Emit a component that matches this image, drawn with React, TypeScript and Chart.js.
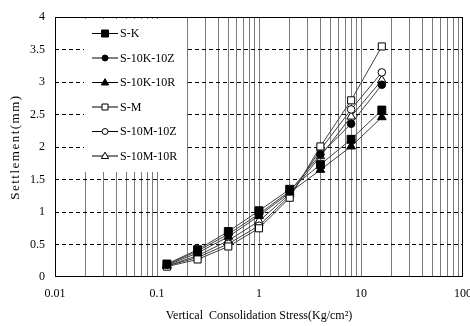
import React, { useEffect, useRef } from "react";
import { Chart, registerables } from "chart.js";

Chart.register(...registerables);

// ---- data ----
const stress = [0.125, 0.25, 0.5, 1, 2, 4, 8, 16];
const seriesNames = ["S-K", "S-10K-10Z", "S-10K-10R", "S-M", "S-10M-10Z", "S-10M-10R"];
const sK = [0.2, 0.42, 0.7, 1.02, 1.35, 1.73, 2.12, 2.57];
const s10K10Z = [0.19, 0.4, 0.66, 0.97, 1.32, 1.89, 2.36, 2.96];
const s10K10R = [0.18, 0.37, 0.62, 0.94, 1.3, 1.65, 2.01, 2.46];
const sM = [0.16, 0.27, 0.47, 0.75, 1.22, 2.01, 2.72, 3.55];
const s10M10Z = [0.17, 0.3, 0.51, 0.79, 1.25, 1.96, 2.58, 3.15];
const s10M10R = [0.17, 0.33, 0.56, 0.86, 1.28, 1.86, 2.47, 3.03];
const seriesValues = [sK, s10K10Z, s10K10R, sM, s10M10Z, s10M10R];
const markerShapes = ["rect", "circle", "triangle", "rect", "circle", "triangle"];
const markerFilled = [true, true, true, false, false, false];

const decades = [0.01, 0.1, 1, 10, 100];
const minorMultipliers = [1, 2, 3, 4, 5, 6, 7, 8, 9];
const yLabels = ["0", "0.5", "1", "1.5", "2", "2.5", "3", "3.5", "4"];
const xTitle = "Vertical  Consolidation Stress(Kg/cm\u00B2)";
const yTitle = "Settlement(mm)";

const FONT = '"Liberation Serif", "Times New Roman", serif';

function xTicks(): number[] {
  const out: number[] = [];
  for (let i = 0; i < decades.length - 1; i++) {
    for (const m of minorMultipliers) out.push(parseFloat((decades[i] * m).toPrecision(6)));
  }
  out.push(decades[decades.length - 1]);
  return out;
}

function drawMarker(ctx: CanvasRenderingContext2D, shape: string, filled: boolean, x: number, y: number, s: number) {
  ctx.save();
  ctx.beginPath();
  if (shape === "rect") {
    ctx.rect(x - s, y - s, 2 * s, 2 * s);
  } else if (shape === "circle") {
    ctx.arc(x, y, s, 0, Math.PI * 2);
  } else {
    ctx.moveTo(x, y - s * 1.15);
    ctx.lineTo(x + s * 1.1, y + s * 0.75);
    ctx.lineTo(x - s * 1.1, y + s * 0.75);
    ctx.closePath();
  }
  ctx.fillStyle = filled ? "#000" : "#fff";
  ctx.fill();
  ctx.lineWidth = 1;
  ctx.strokeStyle = "#000";
  ctx.stroke();
  ctx.restore();
}

const framePlugin = {
  id: "frameAndText",
  beforeDatasetsDraw(chart: any) {
    const { ctx, chartArea } = chart;
    const l = Math.round(chartArea.left) + 0.5;
    const r = Math.round(chartArea.right) - 0.5;
    const t = Math.round(chartArea.top) + 0.5;
    const b = Math.round(chartArea.bottom) - 0.5;
    ctx.save();
    ctx.strokeStyle = "#000";
    ctx.lineWidth = 1;
    ctx.strokeRect(l, t, r - l, b - t);
    ctx.restore();
  },
  afterDatasetsDraw(chart: any) {
    const { ctx, chartArea } = chart;
    // legend box
    ctx.save();
    ctx.fillStyle = "#fff";
    ctx.fillRect(84, 19, 102, 153);
    const rows = [33, 57.5, 82, 106.5, 131, 155.5];
    ctx.font = "12px " + FONT;
    ctx.textBaseline = "middle";
    ctx.textAlign = "left";
    seriesNames.forEach((name, i) => {
      const y = rows[i];
      ctx.beginPath();
      ctx.moveTo(92, y + 0.5);
      ctx.lineTo(118, y + 0.5);
      ctx.strokeStyle = "#000";
      ctx.lineWidth = 1;
      ctx.stroke();
      const s = markerShapes[i] === "rect" ? (markerFilled[i] ? 3.5 : 3) : markerShapes[i] === "circle" ? 3 : 3.3;
      drawMarker(ctx, markerShapes[i], markerFilled[i], 105, y + 0.5, s);
      ctx.fillStyle = "#000";
      ctx.fillText(name, 120, y + 1);
    });
    ctx.restore();

    // axis titles
    ctx.save();
    ctx.fillStyle = "#000";
    ctx.font = "12px " + FONT;
    ctx.textAlign = "center";
    ctx.textBaseline = "middle";
    ctx.fillText(xTitle, (chartArea.left + chartArea.right) / 2, 316);
    ctx.translate(16, (chartArea.top + chartArea.bottom) / 2);
    ctx.rotate(-Math.PI / 2);
    ctx.font = "13px " + FONT;
    try {
      (ctx as any).letterSpacing = "1.5px";
    } catch (e) {}
    ctx.fillText(yTitle, 0, 0);
    ctx.restore();
  },
};

export default function App() {
  const ref = useRef<HTMLCanvasElement | null>(null);

  useEffect(() => {
    document.body.style.margin = "0";
    const canvas = ref.current;
    if (!canvas) return;
    const ticksList = xTicks();
    const datasets = seriesNames.map((name, i) => {
      const shape = markerShapes[i];
      const radius = shape === "rect" ? (markerFilled[i] ? 5.6 : 5) : shape === "circle" ? 3.8 : 5;
      return {
        label: name,
        data: stress.map((x, k) => ({ x, y: seriesValues[i][k] })),
        borderColor: "#404040",
        borderWidth: 1,
        pointStyle: shape,
        pointRadius: radius,
        pointHoverRadius: radius,
        pointBackgroundColor: markerFilled[i] ? "#000" : "#fff",
        pointBorderColor: "#000",
        pointBorderWidth: 1,
        fill: false,
        tension: 0,
      };
    });

    const chart = new Chart(canvas, {
      type: "line",
      data: { datasets: datasets as any },
      plugins: [framePlugin as any],
      options: {
        animation: false,
        responsive: false,
        events: [],
        layout: { padding: { top: 13, right: 7, left: 0, bottom: 0 } },
        plugins: {
          legend: { display: false },
          tooltip: { enabled: false },
          title: { display: false },
        },
        scales: {
          x: {
            type: "logarithmic",
            min: 0.01,
            max: 100,
            afterBuildTicks(scale: any) {
              scale.ticks = ticksList.map((v) => ({ value: v }));
            },
            afterFit(scale: any) {
              scale.height = 49;
              scale.paddingLeft = 0;
              scale.paddingRight = 0;
            },
            grid: {
              drawTicks: false,
              lineWidth: 1,
              color: (c: any) => {
                const v = c.tick ? c.tick.value : null;
                if (v === 0.01 || v === 100) return "rgba(0,0,0,0)";
                return "#7a7a7a";
              },
            },
            border: { display: false },
            ticks: {
              autoSkip: false,
              maxRotation: 0,
              minRotation: 0,
              padding: 10,
              color: "#000",
              font: { family: FONT, size: 12 },
              callback: (value: any) => {
                const v = Number(value);
                const idx = decades.findIndex((d) => Math.abs(d - v) < d * 1e-6);
                return idx >= 0 ? String(decades[idx]) : "";
              },
            },
          },
          y: {
            type: "linear",
            min: 0,
            max: 4,
            afterFit(scale: any) {
              scale.width = 55;
            },
            grid: {
              drawTicks: false,
              lineWidth: 1,
              color: (c: any) => {
                const v = c.tick ? c.tick.value : null;
                if (v === 0 || v === 4) return "rgba(0,0,0,0)";
                return "#000";
              },
            },
            border: { display: false, dash: [4, 3] },
            ticks: {
              stepSize: 0.5,
              padding: 10,
              color: "#000",
              font: { family: FONT, size: 12 },
              callback: (value: any, index: number) => yLabels[index] ?? String(value),
            },
          },
        },
      } as any,
    });
    return () => chart.destroy();
  }, []);

  return (
    <div style={{ width: 470, height: 326 }}>
      <canvas ref={ref} width={470} height={326} style={{ display: "block" }} />
    </div>
  );
}
